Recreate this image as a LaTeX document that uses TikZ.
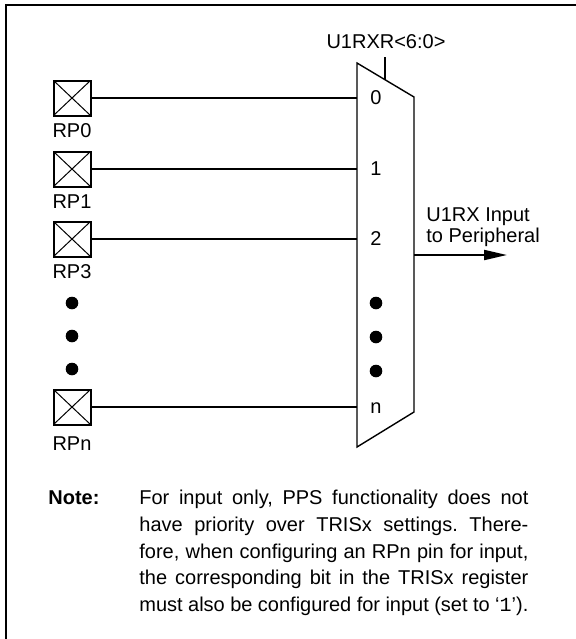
\documentclass[tikz,border=0pt]{standalone}
\usepackage{fontspec}
\setmainfont{Liberation Sans}
\newfontfamily\pinmono{Liberation Mono}
\usetikzlibrary{positioning,arrows.meta}
\frenchspacing
\tikzset{
  pinbox/.style={draw,line width=1pt,minimum width=18.5pt,minimum height=17.5pt,inner sep=0pt,
    path picture={\draw[line width=0.5pt]
      (path picture bounding box.south west) -- (path picture bounding box.north east)
      (path picture bounding box.north west) -- (path picture bounding box.south east);}},
  pinlabel/.style={inner sep=0pt},
  dot/.style={circle,fill,inner sep=0pt,minimum size=6.3pt},
}
\begin{document}
\begin{tikzpicture}[x=0.5pt,y=-0.5pt,font=\fontsize{10}{13.33}\selectfont]
  \useasboundingbox (0,0) rectangle (576,639);
  \draw[line width=1pt] (6,639) -- (6,5) -- (576,5);
  % pins
  \draw
    (72,98) node[pinbox] (rp0){}
    (72,169) node[pinbox] (rp1){}
    (72,239) node[pinbox] (rp3){}
    (72,407) node[pinbox] (rpn){};
  \node[pinlabel,below=3.5pt of rp0] (rp0name) {RP0};
  \node[pinlabel,below=3.5pt of rp1] (rp1name) {RP1};
  \node[pinlabel,below=3.5pt of rp3] (rp3name) {RP3};
  \node[pinlabel,below=5.5pt of rpn] (rpnname) {RPn};
  \draw
    (72,303) node[dot] (ldot1){}
    (72,336) node[dot] (ldot2){}
    (72,369) node[dot] (ldot3){};
  % multiplexer
  \coordinate (mtl) at (357,63);
  \coordinate (mtr) at (414,97);
  \coordinate (mbr) at (414,412);
  \coordinate (mbl) at (357,447);
  \draw[line width=0.7pt] (mtl) -- (mtr) -- (mbr) -- (mbl) -- cycle;
  \coordinate (in0) at (357,98);
  \coordinate (in1) at (357,169);
  \coordinate (in2) at (357,239);
  \coordinate (inn) at (357,407);
  \draw
    (376,98) node (m0){0}
    (376,169) node (m1){1}
    (376,239) node (m2){2}
    (376,408) node (mn){n}
    (376,303) node[dot] (mdot1){}
    (376,337) node[dot] (mdot2){}
    (376,371) node[dot] (mdot3){};
  \coordinate (sel) at (385,80);
  \coordinate (seltop) at (385,57);
  \node (selname) at (386,42) {U1RXR<6:0>};
  \coordinate (out) at (414,255);
  \coordinate (outend) at (507,255);
  \node[anchor=north west,inner sep=0pt,align=left,font=\fontsize{10}{10.35}\selectfont]
    (outname) at (426,207.5) {U1RX Input\\to Peripheral};
  \begin{scope}[line width=1pt]
    \draw (rp0) to (in0);
    \draw (rp1) to (in1);
    \draw (rp3) to (in2);
    \draw (rpn) to (inn);
    \draw (sel) to (seltop);
    \draw[-{Triangle[length=11.5pt,width=5pt]}] (out) to (outend);
  \end{scope}
  % note
  \node[anchor=north west,inner sep=0pt,font=\fontsize{10}{13.33}\selectfont\bfseries]
    (notehead) at (48,490) {Note:};
  \node[anchor=north west,inner sep=0pt,text width=194.5pt,align=justify]
    (notebody) at (139,490) {For input only, PPS functionality does not\linebreak
    have priority over TRISx settings. There-\linebreak
    fore, when configuring an RPn pin for input,\linebreak
    the corresponding bit in the TRISx register\linebreak
    must also be configured for input (set to ‘{\pinmono 1}’).};
\end{tikzpicture}
\end{document}
